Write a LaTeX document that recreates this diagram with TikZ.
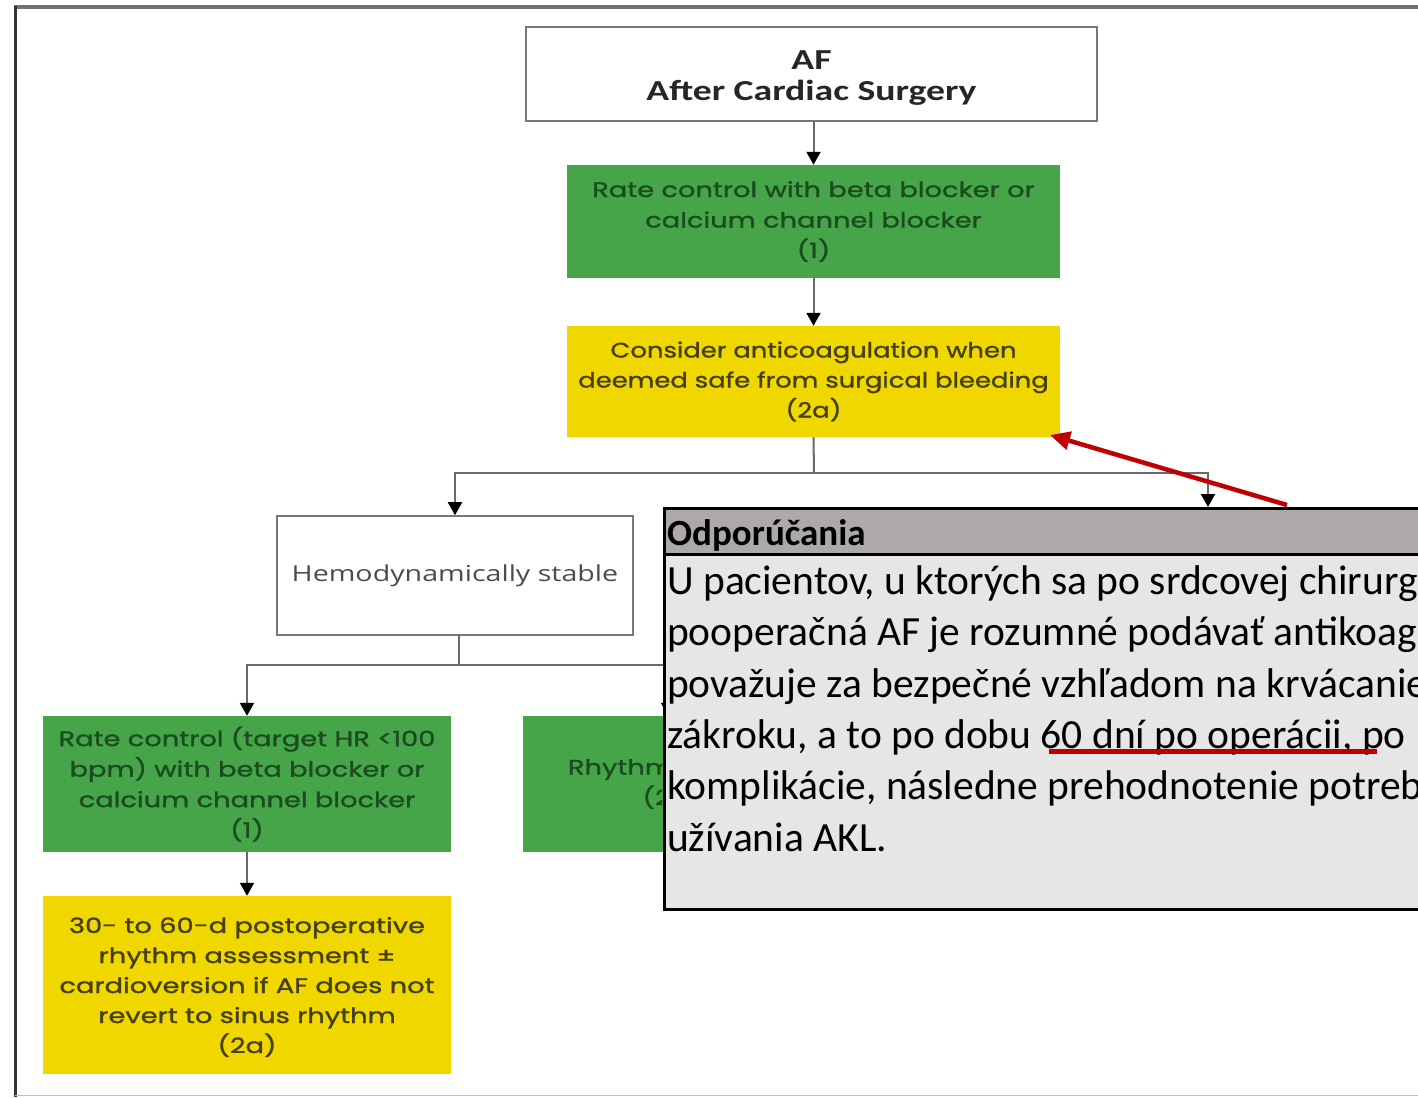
\documentclass[tikz,border=0pt]{standalone}
\usepackage{fontspec}
\setmainfont{Carlito}
\newfontfamily\flowfont{Poppins}[FakeStretch=1.3,FakeBold=1.3]
\newfontfamily\flowfontn{Poppins}[FakeStretch=1.23,FakeBold=1.3]
\newfontfamily\hemofont{Open Sans}[FakeStretch=1.3]
\newfontfamily\titlefont{Carlito}[FakeStretch=1.3]
\usetikzlibrary{arrows.meta,calc}
\definecolor{flowgreen}{RGB}{70,165,72}
\definecolor{greentext}{RGB}{26,76,32}
\definecolor{flowyellow}{RGB}{240,215,0}
\definecolor{yellowtext}{RGB}{70,64,16}
\definecolor{linkgray}{RGB}{105,105,105}
\definecolor{boxgray}{RGB}{120,120,120}
\definecolor{pophead}{RGB}{173,169,168}
\definecolor{popbody}{RGB}{230,230,230}
\definecolor{markred}{RGB}{192,0,0}
\begin{document}
\begin{tikzpicture}[x=1pt,y=-1pt,
  basebox/.style={rectangle, inner sep=0pt, align=center},
  whitebox/.style={basebox, draw=boxgray, line width=1.6pt, fill=white},
  greenbox/.style={basebox, fill=flowgreen, text=greentext, font=\flowfont\fontsize{21}{30.5}\selectfont},
  yellowbox/.style={basebox, fill=flowyellow, text=yellowtext, font=\flowfont\fontsize{21}{30}\selectfont},
  link/.style={draw=linkgray, line width=2pt},
  arr/.style={link, -{Triangle[width=14pt,length=13pt,color=black]}},
  redarrow/.style={draw=markred, line width=4.5pt, -{Triangle[width=18pt,length=20pt]}},
  poptext/.style={anchor=base west, inner sep=0pt, font=\fontsize{41.5}{50}\selectfont},
]
\useasboundingbox (0,0) rectangle (1418,1097);

% frame
\draw[line width=4.5pt, color=black!55] (14,7) -- (1418,7);
\draw[line width=3pt, color=black!80] (15,6) -- (15,1097);
\draw[line width=1pt, color=black!25] (15,1095) -- (1418,1095);

% nodes
\node[whitebox, minimum width=571pt, minimum height=94pt] (af) at (811.5,74) {};
\node[basebox, text=black!85, font=\titlefont\bfseries\fontsize{29}{31}\selectfont] (aftext) at (811.5,78)
  {AF\\After Cardiac Surgery};
\node[greenbox, minimum width=493pt, minimum height=113pt] (g1) at (813.5,221.5)
  {Rate control with beta blocker or\\calcium channel blocker\\(1)};
\node[yellowbox, minimum width=493pt, minimum height=111pt, font=\flowfontn\fontsize{21}{30}\selectfont]
  (y1) at (813.5,381.5)
  {Consider anticoagulation when\\deemed safe from surgical bleeding\\(2a)};
\node[whitebox, minimum width=356pt, minimum height=119pt, text=black!70,
      font=\hemofont\fontsize{22}{26}\selectfont] (hemo) at (455,575.5) {Hemodynamically stable};
\node[greenbox, minimum width=408pt, minimum height=136pt] (g3) at (247,784)
  {Rate control (target HR <100\\bpm) with beta blocker or\\calcium channel blocker\\(1)};
\node[yellowbox, minimum width=408pt, minimum height=178pt, text depth=0pt] (y3) at (247,985)
  {30- to 60-d postoperative\\rhythm assessment ±\\cardioversion if AF does not\\revert to sinus rhythm\\(2a)};
\node[greenbox, minimum width=290pt, minimum height=136pt] (g2) at (668,784) {};
\begin{scope}
\clip (523,716) rectangle (662,852);
\node[basebox, text=greentext, font=\flowfont\fontsize{21}{30.5}\selectfont] (g2text) at (672,784)
  {Rhythm control\\(2a)};
\end{scope}

% connectors
\draw[arr] (g1.north |- af.south) -- (g1.north);
\draw[arr] (g1.south) -- (y1.north);
\coordinate (split1) at (814,473);
\coordinate (rtarget) at (1208,507);
\draw[link] (y1.south) -- (split1);
\draw[arr] (split1) -| (hemo.north);
\draw[arr] (split1) -| (rtarget);
\coordinate (split2) at (459,665);
\draw[link] (split2 |- hemo.south) -- (split2);
\draw[arr] (split2) -| (g3.north);
\draw[arr] (split2) -| (g2.north);
\draw[arr] (g3.south) -- (y3.north);

% popup
\begin{scope}
\clip (0,0) rectangle (1418,1097);
\node[rectangle, anchor=north west, minimum width=800pt, minimum height=46pt, inner sep=0pt,
      fill=pophead, draw=black, line width=2.5pt] (phead) at (663,507) {};
\node[rectangle, anchor=north west, minimum width=800pt, minimum height=355pt, inner sep=0pt,
      fill=popbody, draw=black, line width=2.5pt] (pbody) at (663,553) {};
\node[poptext, font=\bfseries\fontsize{37}{40}\selectfont] (ptitle) at (667,545) {Odporúčania};
\node[poptext] (pl1) at (667,594.5) {U pacientov, u ktorých sa po srdcovej chirurgii};
\node[poptext] (pl2) at (667,645.5) {pooperačná AF je rozumné podávať antikoagulanciá};
\node[poptext] (pl3) at (667,697) {považuje za bezpečné vzhľadom na krvácanie};
\node[poptext] (pl4) at (667,748) {zákroku, a to po dobu 60 dní po operácii, po};
\node[poptext] (pl5) at (667,799.5) {komplikácie, následne prehodnotenie potreby};
\node[poptext] (pl6) at (667,851) {užívania AKL.};
\end{scope}

% red marks
\coordinate (redstart) at (1287,505);
\coordinate (redtip) at (1050,435);
\draw[redarrow] (redstart) -- (redtip);
\coordinate (ulA) at (1049,751);
\coordinate (ulB) at (1377,751);
\draw[draw=markred, line width=5pt] (ulA) -- (ulB);
\end{tikzpicture}
\end{document}
